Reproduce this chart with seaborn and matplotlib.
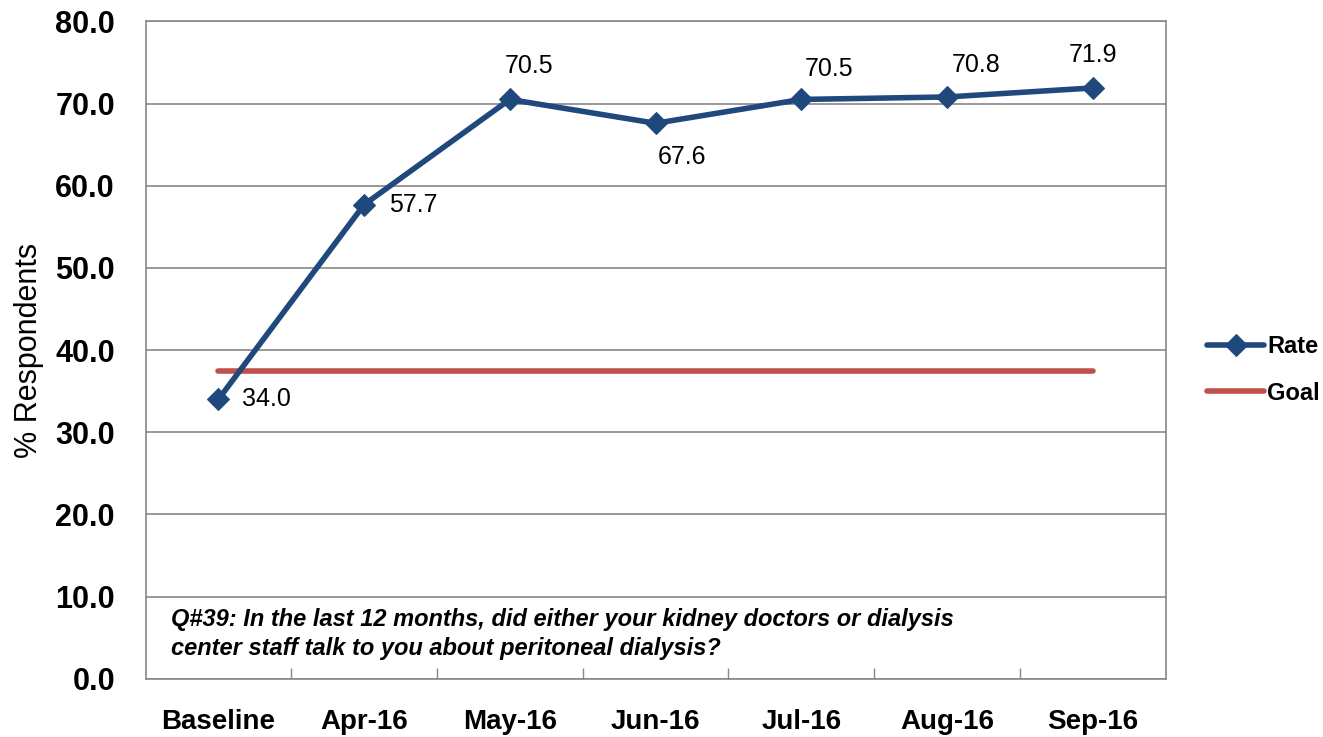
import numpy as np
import pandas as pd
import seaborn as sns
import matplotlib.pyplot as plt
from matplotlib.ticker import MultipleLocator, FixedLocator

sns.set_theme(style='white')
plt.rcParams['font.family'] = ['Liberation Sans', 'DejaVu Sans']
for k in ['text.color', 'axes.labelcolor', 'xtick.color', 'ytick.color']:
    plt.rcParams[k] = 'black'

# data
months = ['Baseline', 'Apr-16', 'May-16', 'Jun-16', 'Jul-16', 'Aug-16', 'Sep-16']
rate = [34.0, 57.7, 70.5, 67.6, 70.5, 70.8, 71.9]
goal = [37.4] * 7
note = ('Q#39: In the last 12 months, did either your kidney doctors or dialysis\n'
        'center staff talk to you about peritoneal dialysis?')

df = pd.DataFrame({'month': months, 'pos': np.arange(len(months)), 'Rate': rate, 'Goal': goal})

blue = '#1f497d'
red = '#c0504d'

fig, ax = plt.subplots(figsize=(13.23, 7.37), dpi=100)
fig.subplots_adjust(left=0.11, right=0.881, top=0.971, bottom=0.079)

sns.lineplot(data=df, x='pos', y='Goal', color=red, lw=4, ax=ax, label='Goal')
sns.lineplot(data=df, x='pos', y='Rate', color=blue, lw=4, marker='D', markersize=11,
             markeredgecolor=blue, ax=ax, label='Rate')

# data labels (offsets in points)
offsets = [(17, 0, 'left'), (18, 0, 'left'), (14, 24, 'center'), (1.5, -24, 'left'),
           (20, 22, 'center'), (21, 23, 'center'), (0, 24, 'center')]
for i, v in enumerate(rate):
    dx, dy, ha = offsets[i]
    ax.annotate(f'{v:.1f}', (i, v), xytext=(dx, dy), textcoords='offset points',
                ha=ha, va='center', fontsize=18)

ax.set_xlim(-0.5, len(months) - 0.5)
ax.set_ylim(0, 80)
ax.yaxis.set_major_locator(MultipleLocator(10))
ax.set_yticklabels([f'{t:.1f}' for t in ax.get_yticks()], fontsize=22, fontweight='bold')
ax.set_xticks(df['pos'])
ax.set_xticklabels(months, fontsize=20, fontweight='bold')
ax.xaxis.set_minor_locator(FixedLocator(np.arange(0.5, len(months) - 0.5, 1)))
ax.tick_params(axis='x', which='major', length=0, pad=22)
ax.tick_params(axis='x', which='minor', direction='in', length=8, color='#888888', width=1, bottom=True)
ax.tick_params(axis='y', length=0, pad=22)

ax.grid(axis='y', color='#888888', lw=1.2)
for s in ['left', 'bottom', 'top', 'right']:
    ax.spines[s].set_color('#888888')
    ax.spines[s].set_linewidth(1.2)

ax.set_xlabel(None)
ax.set_ylabel('% Respondents', fontsize=22, labelpad=8)

ax.text(0.025, 0.068, note, transform=ax.transAxes, fontsize=17, style='italic',
        fontweight='bold', va='center', ha='left', linespacing=1.3)

handles, labels = ax.get_legend_handles_labels()
ax.legend(handles[::-1], labels[::-1], loc='center left', bbox_to_anchor=(1.02, 0.47),
          frameon=False, handlelength=2.4, labelspacing=1.0, handletextpad=0.15,
          prop={'weight': 'bold', 'size': 17})

plt.savefig('out.png', dpi=100)
